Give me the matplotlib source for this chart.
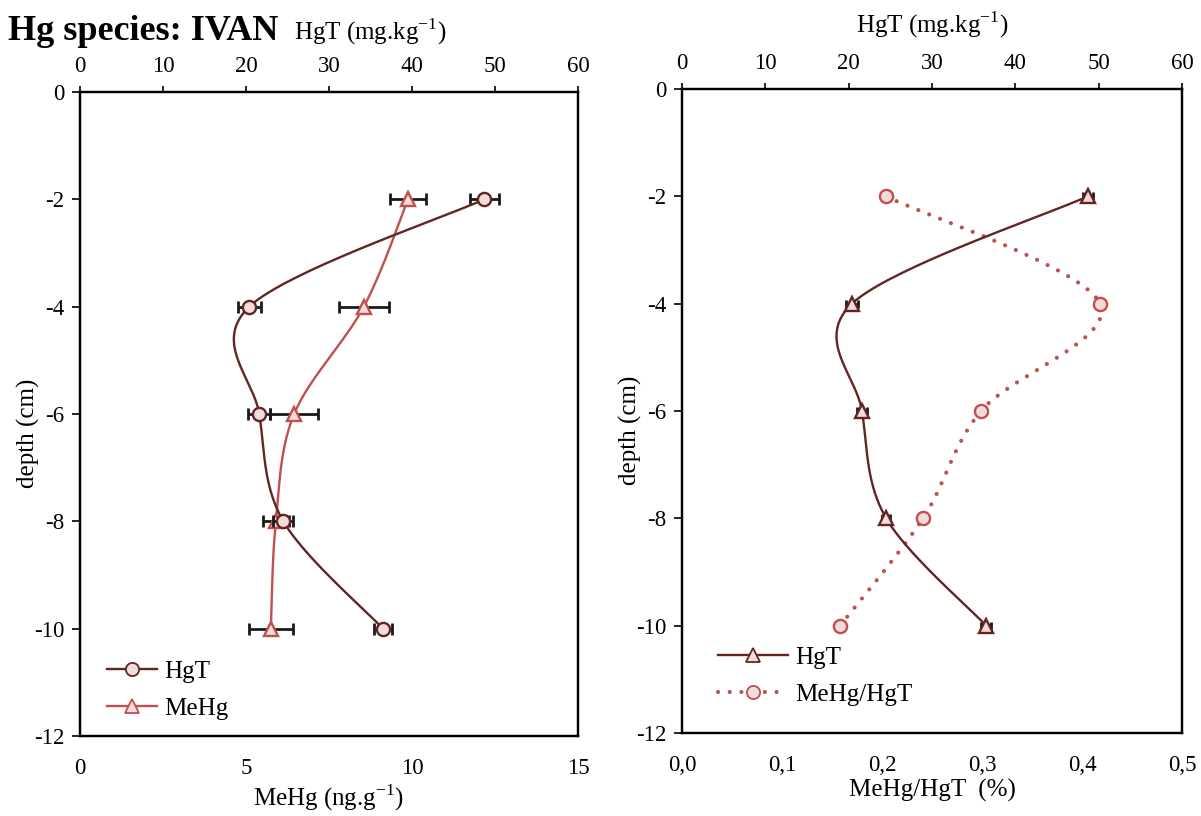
import numpy as np
import matplotlib
matplotlib.use("Agg")
import matplotlib.pyplot as plt
from matplotlib.lines import Line2D
from matplotlib.ticker import FuncFormatter

plt.rcParams['font.family'] = ['Liberation Serif', 'DejaVu Serif']
plt.rcParams['mathtext.fontset'] = 'custom'
plt.rcParams['mathtext.rm'] = 'Liberation Serif'
plt.rcParams['axes.unicode_minus'] = False

# profile data
depth = [-2, -4, -6, -8, -10]
hgt = [48.7, 20.4, 21.6, 24.5, 36.5]            # mg/kg
hgt_err = [1.75, 1.4, 1.3, 1.2, 1.1]
hgt_err_right = [0.6, 0.7, 0.6, 0.5, 0.6]
mehg = [9.88, 8.55, 6.45, 5.9, 5.75]            # ng/g
mehg_err = [0.53, 0.75, 0.72, 0.4, 0.66]
ratio = [0.204, 0.418, 0.299, 0.241, 0.158]     # MeHg/HgT (%)

dark = '#632523'
red = '#C0504D'
fill = '#F2DCDB'
FS = 16.5
LFS = 18
DOTS = (0, (0.01, 2.8))


def smooth(x, y, xlim, ylim, w, h, n=40):
    # Catmull-Rom style bezier smoothing done in pixel space
    px = (np.asarray(x, float) - xlim[0]) / (xlim[1] - xlim[0]) * w
    py = (np.asarray(y, float) - ylim[0]) / (ylim[1] - ylim[0]) * h
    P = np.column_stack([px, py])
    out = []
    for i in range(len(P) - 1):
        p0 = P[i - 1] if i > 0 else P[i]
        p1, p2 = P[i], P[i + 1]
        p3 = P[i + 2] if i + 2 < len(P) else P[i + 1]
        c1 = p1 + (p2 - p0) / 6
        c2 = p2 - (p3 - p1) / 6
        t = np.linspace(0, 1, n)[:, None]
        seg = ((1 - t) ** 3 * p1 + 3 * (1 - t) ** 2 * t * c1
               + 3 * (1 - t) * t ** 2 * c2 + t ** 3 * p2)
        out.append(seg if i == 0 else seg[1:])
    S = np.vstack(out)
    sx = S[:, 0] / w * (xlim[1] - xlim[0]) + xlim[0]
    sy = S[:, 1] / h * (ylim[1] - ylim[0]) + ylim[0]
    return sx, sy


def style_axes(ax, top, ylab_x):
    ax.set_ylim(-12, 0)
    ax.set_yticks(range(-12, 1, 2))
    ax.tick_params(axis='y', direction='out', length=6, width=1.2, labelsize=FS, pad=5)
    ax.tick_params(axis='x', length=0, labelsize=FS, pad=16)
    ax.set_ylabel('depth (cm)', fontsize=LFS)
    ax.yaxis.set_label_coords(ylab_x, 0.47)
    top.set_xlim(0, 60)
    top.set_xticks(range(0, 61, 10))
    top.tick_params(axis='x', direction='out', length=4, width=1.2, labelsize=FS, pad=7)
    for a in (ax, top):
        for s in a.spines.values():
            s.set_linewidth(1.6)
            s.set_color('black')


fig = plt.figure(figsize=(12.01, 8.16), dpi=100)
W_PX, H_PX = 498, 644

# ---- left panel: HgT and MeHg profiles
ax1 = fig.add_axes([80 / 1201, 1 - 736 / 816, 498 / 1201, 644 / 816])
ax1t = ax1.twiny()
ax1.set_xlim(0, 15)
ax1.set_xticks([0, 5, 10, 15])
style_axes(ax1, ax1t, -0.08)
ax1.set_xlabel('MeHg (ng.g$^{-1}$)', fontsize=LFS, labelpad=2)
ax1t.set_xlabel('HgT (mg.kg$^{-1}$)', fontsize=LFS)
ax1t.xaxis.set_label_coords(0.582, 1.082)

ax1t.errorbar(hgt, depth, xerr=hgt_err, fmt='none', ecolor='#1a1a1a',
              elinewidth=2, capsize=4, capthick=2, zorder=2)
ax1.errorbar(mehg, depth, xerr=mehg_err, fmt='none', ecolor='#1a1a1a',
             elinewidth=2, capsize=4, capthick=2, zorder=2)
sx, sy = smooth(hgt, depth, (0, 60), (-12, 0), W_PX, H_PX)
ax1t.plot(sx, sy, color=dark, lw=1.7, zorder=3)
ax1t.plot(hgt, depth, 'o', ms=9.5, mfc=fill, mec=dark, mew=1.7, zorder=4)
sx, sy = smooth(mehg, depth, (0, 15), (-12, 0), W_PX, H_PX)
ax1.plot(sx, sy, color=red, lw=1.7, zorder=3)
ax1.plot(mehg, depth, '^', ms=9.5, mfc=fill, mec=red, mew=1.7, zorder=4)

h1 = [Line2D([], [], color=dark, lw=1.7, marker='o', ms=9.5, mfc=fill, mec=dark, mew=1.3),
      Line2D([], [], color=red, lw=1.7, marker='^', ms=9.5, mfc=fill, mec=red, mew=1.3)]
ax1t.legend(h1, ['HgT', 'MeHg'], loc='upper left', bbox_to_anchor=(0.054, 0.118),
            frameon=False, fontsize=LFS, borderpad=0, borderaxespad=0,
            handlelength=2.0, handletextpad=0.3, labelspacing=0.6)

# ---- right panel: HgT and MeHg/HgT ratio
ax2 = fig.add_axes([682 / 1201, 1 - 733 / 816, 500 / 1201, 644 / 816])
ax2t = ax2.twiny()
ax2.set_xlim(0, 0.5)
ax2.set_xticks(np.arange(0, 0.51, 0.1))
ax2.xaxis.set_major_formatter(FuncFormatter(lambda v, p: f'{v:.1f}'.replace('.', ',')))
style_axes(ax2, ax2t, -0.08)
ax2.set_xlabel('MeHg/HgT  (%)', fontsize=LFS, labelpad=2)
ax2t.set_xlabel('HgT (mg.kg$^{-1}$)', fontsize=LFS)
ax2t.xaxis.set_label_coords(0.5, 1.088)

ax2t.errorbar(hgt, depth, xerr=hgt_err_right, fmt='none', ecolor='#1a1a1a',
              elinewidth=2, capsize=3, capthick=2, zorder=2)
sx, sy = smooth(hgt, depth, (0, 60), (-12, 0), 500, H_PX)
ax2t.plot(sx, sy, color=dark, lw=1.7, zorder=3)
ax2t.plot(hgt, depth, '^', ms=9.5, mfc=fill, mec=dark, mew=1.7, zorder=4)
sx, sy = smooth(ratio, depth, (0, 0.5), (-12, 0), 500, H_PX)
ax2.plot(sx, sy, color=red, lw=3, ls=DOTS, dash_capstyle='round', zorder=3)
ax2.plot(ratio, depth, 'o', ms=9.5, mfc=fill, mec=red, mew=1.7, zorder=4)

h2 = [Line2D([], [], color=dark, lw=1.7, marker='^', ms=9.5, mfc=fill, mec=dark, mew=1.3),
      Line2D([], [], color=red, lw=3, ls=DOTS, dash_capstyle='round',
             marker='o', ms=9.5, mfc=fill, mec=red, mew=1.3)]
ax2t.legend(h2, ['HgT', 'MeHg/HgT'], loc='upper left', bbox_to_anchor=(0.072, 0.135),
            frameon=False, fontsize=LFS, borderpad=0, borderaxespad=0,
            handlelength=2.8, handletextpad=0.3, labelspacing=0.6)

fig.text(8 / 1201, 1 - 31 / 816, 'Hg species: IVAN', fontsize=26, fontweight='bold',
         va='center', ha='left')

fig.savefig('out.png', dpi=100)
